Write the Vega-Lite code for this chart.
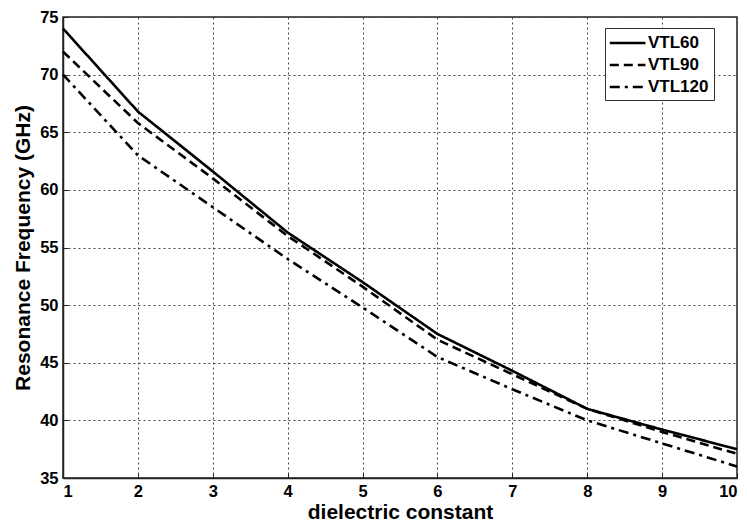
{
  "$schema": "https://vega.github.io/schema/vega-lite/v6.json",
  "width": 674,
  "height": 461,
  "autosize": {"type": "none"},
  "padding": {"left": 63, "top": 17, "right": 10, "bottom": 49},
  "background": "white",
  "data": {
    "values": [
      {"eps": 1, "f": 74.0, "s": "VTL60"},
      {"eps": 2, "f": 66.8, "s": "VTL60"},
      {"eps": 3, "f": 61.6, "s": "VTL60"},
      {"eps": 4, "f": 56.3, "s": "VTL60"},
      {"eps": 5, "f": 52.0, "s": "VTL60"},
      {"eps": 6, "f": 47.5, "s": "VTL60"},
      {"eps": 7, "f": 44.3, "s": "VTL60"},
      {"eps": 8, "f": 41.0, "s": "VTL60"},
      {"eps": 9, "f": 39.2, "s": "VTL60"},
      {"eps": 10, "f": 37.5, "s": "VTL60"},
      {"eps": 1, "f": 72.0, "s": "VTL90"},
      {"eps": 2, "f": 65.8, "s": "VTL90"},
      {"eps": 3, "f": 61.0, "s": "VTL90"},
      {"eps": 4, "f": 56.0, "s": "VTL90"},
      {"eps": 5, "f": 51.6, "s": "VTL90"},
      {"eps": 6, "f": 47.0, "s": "VTL90"},
      {"eps": 7, "f": 44.0, "s": "VTL90"},
      {"eps": 8, "f": 41.0, "s": "VTL90"},
      {"eps": 9, "f": 39.0, "s": "VTL90"},
      {"eps": 10, "f": 37.1, "s": "VTL90"},
      {"eps": 1, "f": 70.0, "s": "VTL120"},
      {"eps": 2, "f": 63.0, "s": "VTL120"},
      {"eps": 3, "f": 58.5, "s": "VTL120"},
      {"eps": 4, "f": 54.0, "s": "VTL120"},
      {"eps": 5, "f": 49.8, "s": "VTL120"},
      {"eps": 6, "f": 45.5, "s": "VTL120"},
      {"eps": 7, "f": 42.7, "s": "VTL120"},
      {"eps": 8, "f": 40.0, "s": "VTL120"},
      {"eps": 9, "f": 38.0, "s": "VTL120"},
      {"eps": 10, "f": 36.0, "s": "VTL120"}
    ]
  },
  "mark": {"type": "line", "color": "black", "strokeWidth": 2.6},
  "encoding": {
    "x": {
      "field": "eps", "type": "quantitative",
      "scale": {"domain": [1, 10], "nice": false, "zero": false},
      "axis": {"title": "dielectric constant", "values": [1,2,3,4,5,6,7,8,9,10], "format": "d"}
    },
    "y": {
      "field": "f", "type": "quantitative",
      "scale": {"domain": [35, 75], "nice": false, "zero": false},
      "axis": {"title": "Resonance Frequency (GHz)", "values": [35,40,45,50,55,60,65,70,75]}
    },
    "strokeDash": {
      "field": "s", "type": "nominal",
      "scale": {"domain": ["VTL60", "VTL90", "VTL120"], "range": [[1, 0], [9, 5], [10, 5, 3, 5]]},
      "legend": {
        "title": null,
        "orient": "none",
        "legendX": 542,
        "legendY": 11,
        "strokeColor": "#333",
        "fillColor": "white",
        "padding": 5,
        "symbolType": "M-1.2,0H3",
        "symbolSize": 289,
        "symbolStrokeWidth": 2.6,
        "symbolStrokeColor": "black",
        "labelOffset": 18,
        "labelExpr": "datum.label + '\u00a0\u00a0\u00a0\u00a0'",
        "labelFont": "Liberation Sans",
        "labelFontWeight": "bold",
        "labelFontSize": 17,
        "labelColor": "black",
        "rowPadding": 4
      }
    }
  },
  "config": {
    "view": {"stroke": "#222", "strokeWidth": 1.5},
    "axis": {
      "labelFont": "Liberation Sans",
      "labelFontWeight": "bold",
      "labelFontSize": 16.5,
      "labelColor": "black",
      "titleFont": "Liberation Sans",
      "titleFontWeight": "bold",
      "titleFontSize": 21,
      "titleColor": "black",
      "domainColor": "#222",
      "domainWidth": 1.5,
      "ticks": true,
      "tickSize": -5,
      "tickColor": "#222",
      "labelPadding": 10,
      "grid": true,
      "gridColor": "#444",
      "gridDash": [2, 3],
      "gridWidth": 1,
      "gridOpacity": 1
    },
    "axisX": {"titlePadding": 2},
    "axisY": {"titlePadding": 6}
  }
}
